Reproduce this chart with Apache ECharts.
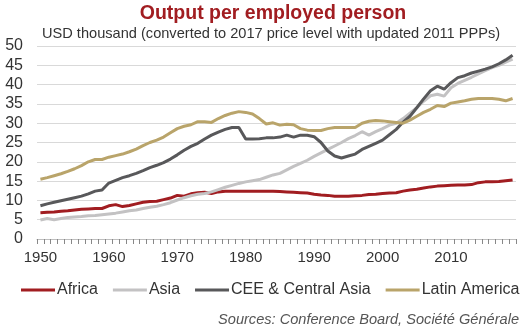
<!DOCTYPE html>
<html><head><meta charset="utf-8">
<script src="https://cdn.jsdelivr.net/npm/echarts@6/dist/echarts.min.js"></script>
<style>html,body{margin:0;padding:0;background:#fff}#c{width:532px;height:328px}</style>
</head><body><div id="c"></div>
<script>
const years = [];
for (let y = 1950; y <= 2019; y++) years.push(String(y));

const africa = [6.8,6.9,7.0,7.2,7.3,7.5,7.7,7.8,7.9,7.9,8.6,8.9,8.4,8.7,9.1,9.5,9.7,9.8,10.2,10.6,
11.3,11.1,11.7,12.0,12.1,11.8,12.2,12.4,12.4,12.4,12.4,12.4,12.4,12.4,12.4,12.3,12.2,12.1,12.0,11.9,
11.6,11.4,11.3,11.1,11.1,11.1,11.2,11.3,11.5,11.6,11.8,11.9,12.0,12.4,12.7,12.9,13.2,13.5,13.7,13.8,
13.9,14.0,14.0,14.1,14.6,14.8,14.8,14.9,15.1,15.3];

const asia = [4.9,5.3,5.0,5.3,5.6,5.7,5.8,6.0,6.1,6.3,6.5,6.7,7.0,7.3,7.5,7.9,8.2,8.5,8.9,9.4,
10.1,10.7,11.2,11.6,11.8,12.2,12.8,13.4,13.9,14.4,14.8,15.1,15.4,16.0,16.6,17.0,17.9,18.8,19.6,20.4,
21.4,22.3,23.2,24.1,25.0,26.0,26.8,27.8,26.9,27.8,28.6,29.5,30.0,31.2,32.6,34.0,35.7,37.1,37.5,37.0,
39.2,40.3,41.1,41.9,42.8,43.6,44.4,45.0,45.8,46.6];

const cee = [8.6,9.1,9.5,9.9,10.3,10.7,11.1,11.7,12.4,12.7,14.5,15.2,15.9,16.4,17.0,17.7,18.5,19.1,19.8,20.7,
21.8,23.0,24.0,24.8,25.9,26.9,27.7,28.4,28.9,28.9,25.9,25.9,26.0,26.2,26.2,26.4,26.9,26.4,26.9,26.9,
26.5,25.0,22.8,21.5,21.0,21.5,22.0,23.2,24.0,24.8,25.6,27.0,28.4,30.3,31.8,34.0,36.3,38.4,39.6,38.8,
40.5,41.8,42.3,43.0,43.5,44.0,44.6,45.4,46.4,47.6];

const latam = [15.5,15.9,16.4,16.9,17.5,18.2,19.0,20.0,20.6,20.6,21.2,21.6,22.0,22.6,23.3,24.2,25.0,25.6,26.4,27.5,
28.6,29.2,29.6,30.4,30.4,30.2,31.2,32.0,32.6,33.0,32.8,32.4,31.2,29.8,30.1,29.5,29.7,29.6,28.6,28.2,
28.1,28.1,28.6,28.9,28.9,28.9,28.9,30.0,30.5,30.7,30.6,30.4,30.2,30.0,30.8,31.8,32.8,33.6,34.6,34.3,
35.2,35.5,35.8,36.2,36.4,36.4,36.4,36.2,35.8,36.4];

const seriesNames = ['Africa','Asia','CEE & Central Asia','Latin America'];
const seriesColors = ['#A11D21','#C3C2C3','#58585A','#B9A46A'];
const seriesData = [africa, asia, cee, latam];

const FONT = 'Liberation Sans, Arial, sans-serif';
const chart = echarts.init(document.getElementById('c'), null, {renderer:'canvas'});
chart.setOption({
  animation: false,
  backgroundColor: '#fff',
  title: [
    {text: 'Output per employed person', left: 268, top: -1, textAlign: 'center',
     textStyle: {fontFamily: FONT, fontSize: 19.5, fontWeight: 'bold', color: '#A11D21'}},
    {text: 'USD thousand (converted to 2017 price level with updated 2011 PPPs)', left: 37, top: 21,
     textStyle: {fontFamily: FONT, fontSize: 14.6, fontWeight: 'normal', color: '#333'}},
    {text: 'Sources: Conference Board, Société Générale', right: 8, top: 307,
     textStyle: {fontFamily: FONT, fontSize: 14.6, fontStyle: 'italic', fontWeight: 'normal', color: '#555'}}
  ],
  legend: {
    data: seriesNames, left: 16, top: 277, icon: 'rect', itemWidth: 34, itemHeight: 3, itemGap: 15,
    textStyle: {fontFamily: FONT, fontSize: 16, color: '#333', padding: [0,0,0,-3]}
  },
  grid: {left: 37, right: 16, top: 46, bottom: 89, containLabel: false},
  xAxis: {
    type: 'category', data: years, boundaryGap: true,
    axisLine: {show: true, lineStyle: {color: '#BFBFBF', width: 1}},
    axisTick: {show: true, interval: 0, length: 5, lineStyle: {color: '#888'}},
    axisLabel: {interval: 9, fontFamily: FONT, fontSize: 15, color: '#333', margin: 11}
  },
  yAxis: {
    type: 'value', min: 0, max: 50, interval: 5,
    axisLine: {show: false}, axisTick: {show: false},
    splitLine: {lineStyle: {color: '#D9D9D9', width: 1}},
    axisLabel: {fontFamily: FONT, fontSize: 16, color: '#333', margin: 14}
  },
  series: seriesData.map((d, i) => ({
    name: seriesNames[i], type: 'line', data: d, symbol: 'none',
    lineStyle: {color: seriesColors[i], width: 3}, itemStyle: {color: seriesColors[i]}
  }))
});
</script></body></html>
